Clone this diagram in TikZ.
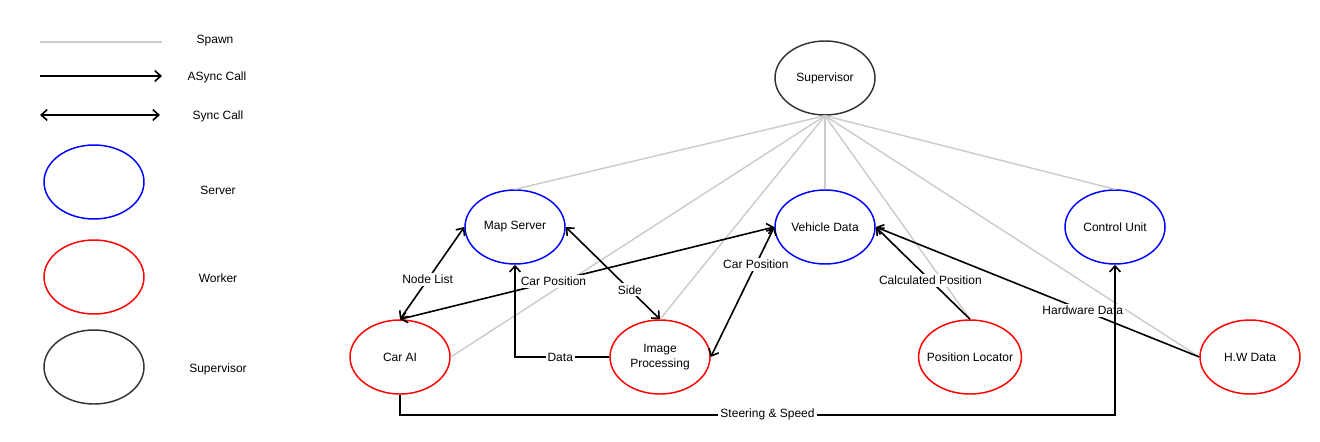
\documentclass[tikz,border=0pt,11pt]{standalone}
\usepackage{fontspec}
\setmainfont{Liberation Sans}
\usetikzlibrary{positioning}
\usetikzlibrary{shapes,arrows,arrows.meta,calc}
\usepackage{xcolor}
\definecolor{spawngray}{HTML}{CCCCCC}
\definecolor{supgray}{HTML}{333333}

\begin{document}
\begin{tikzpicture}[x=0.75pt,y=-0.75pt,>={Straight Barb[length=4.5pt,width=8pt]},
    proc/.style={ellipse,draw,line width=1.1pt,minimum width=75pt,minimum height=55.5pt,inner sep=0pt,align=center},
    server/.style={proc,draw=blue},
    worker/.style={proc,draw=red},
    super/.style={proc,draw=supgray},
    spawn/.style={draw=spawngray,line width=1.1pt},
    async/.style={draw=black,line width=1.2pt,->},
    sync/.style={draw=black,line width=1.2pt,<->},
    lbl/.style={fill=white,inner sep=1.5pt}]\footnotesize
            \useasboundingbox (0,0) rectangle (1320,442);
            % legend
            \coordinate (spawnA) at (40,42);  \coordinate (spawnB) at (162,42);
            \coordinate (asyncA) at (40,76);  \coordinate (asyncB) at (162,76);
            \coordinate (syncA) at (40,115);  \coordinate (syncB) at (160,115);
            \draw[spawn] (spawnA) -- (spawnB);
            \draw[async] (asyncA) -- (asyncB);
            \draw[sync] (syncA) -- (syncB);
            \node (spawnLbl) at (215,41) {Spawn};
            \node (asyncLbl) at (217,77) {ASync Call};
            \node (syncLbl) at (218,116) {Sync Call};
            \node[server] (legServer) at (94,182) {};
            \node[worker] (legWorker) at (94,277) {};
            \node[super] (legSuper) at (94,367) {};
            \node (serverLbl) at (218,190) {Server};
            \node (workerLbl) at (218,278) {Worker};
            \node (superLbl) at (218,369) {Supervisor};
            % processes
            \node[super] (supervisor) at (825,78) {Supervisor};
            \node[server] (mapServer) at (515,227) {Map Server};
            \node[server] (vehicleData) at (825,227) {Vehicle Data};
            \node[server] (controlUnit) at (1115,227) {Control Unit};
            \node[worker] (carAI) at (400,357) {Car AI};
            \node[worker] (imageProc) at (660,357) {Image\\Processing};
            \node[worker,inner xsep=-5pt] (posLocator) at (970,357) {Position Locator};
            \node[worker] (hwData) at (1250,357) {H.W Data};
            % spawn lines
            \foreach \n/\a in {mapServer/north,vehicleData/north,controlUnit/north,carAI/east,imageProc/north,posLocator/north,hwData/west}
                \draw[spawn] (supervisor.south) -- (\n.\a);
            % calls
            \draw[sync] (carAI.north) -- node[lbl,pos=0.43] {Node List} (mapServer.west);
            \draw[sync] (carAI.north) -- node[lbl,pos=0.41] {Car Position} (vehicleData.west);
            \draw[sync] (mapServer.east) -- node[lbl,pos=0.68] {Side} (imageProc.north);
            \draw[async] (imageProc.west) -| node[lbl,pos=0.26] {Data} (mapServer.south);
            \draw[sync] (vehicleData.west) -- node[lbl,pos=0.29] {Car Position} (imageProc.east);
            \draw[async] (posLocator.north) -- node[lbl,pos=0.42] {Calculated Position} (vehicleData.east);
            \draw[async] (hwData.west) -- node[lbl,pos=0.36] {Hardware Data} (vehicleData.east);
            \draw[async] (carAI.south) -- ++(0,20) -| node[lbl,pos=0.257] {Steering \& Speed} (controlUnit.south);
            \end{tikzpicture}
\end{document}
